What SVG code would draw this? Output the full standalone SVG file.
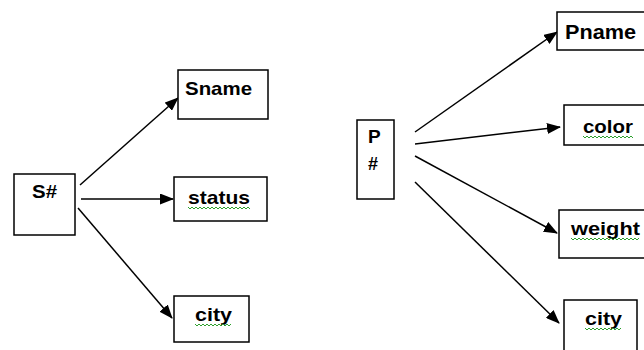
<svg xmlns="http://www.w3.org/2000/svg" width="644" height="350" viewBox="0 0 644 350">
<style>
.box{fill:#fff;stroke:#000;stroke-width:1.5}
.t{font-family:"Liberation Sans",Arial,sans-serif;font-weight:bold;font-size:19px;fill:#000}
.c{stroke:#000;stroke-width:1.5;fill:none;marker-end:url(#ah)}
.sq{stroke:#2ca02c;stroke-width:1;fill:none}
</style>
<defs>
<marker id="ah" viewBox="0 0 14 11" refX="13" refY="5.5" markerWidth="14" markerHeight="11" markerUnits="userSpaceOnUse" orient="auto">
<path d="M0,0 L14,5.5 L0,11 Z" fill="#000"/>
</marker>
</defs>
<rect width="644" height="350" fill="#fff"/>
<g id="connectors">
<line class="c" x1="80" y1="185" x2="178" y2="98"/>
<line class="c" x1="81" y1="199" x2="173" y2="199"/>
<line class="c" x1="78" y1="208" x2="172" y2="318"/>
<line class="c" x1="415" y1="132" x2="557" y2="32"/>
<line class="c" x1="415" y1="144" x2="560" y2="127"/>
<line class="c" x1="415" y1="156" x2="557" y2="233"/>
<line class="c" x1="415" y1="182" x2="559" y2="323"/>
</g>
<g id="node-s">
<rect class="box" x="14" y="174" width="61" height="61"/>
<text class="t" x="32" y="198" textLength="25" lengthAdjust="spacingAndGlyphs">S#</text>
</g>
<g id="node-sname">
<rect class="box" x="178" y="70" width="90" height="49"/>
<text class="t" x="185" y="95" textLength="67" lengthAdjust="spacingAndGlyphs">Sname</text>
</g>
<g id="node-status">
<rect class="box" x="174" y="177" width="93" height="44"/>
<text class="t" x="188" y="204" textLength="62" lengthAdjust="spacingAndGlyphs">status</text>
<polyline class="sq" points="188,207 190,209 192,207 194,209 196,207 198,209 200,207 202,209 204,207 206,209 208,207 210,209 212,207 214,209 216,207 218,209 220,207 222,209 224,207 226,209 228,207 230,209 232,207 234,209 236,207 238,209 240,207 242,209 244,207 246,209 248,207 250,209"/>
</g>
<g id="node-city1">
<rect class="box" x="174" y="296" width="75" height="46"/>
<text class="t" x="195" y="321" textLength="37" lengthAdjust="spacingAndGlyphs">city</text>
<polyline class="sq" points="195,324 197,326 199,324 201,326 203,324 205,326 207,324 209,326 211,324 213,326 215,324 217,326 219,324 221,326 223,324 225,326 227,324 229,326 231,324"/>
</g>
<g id="node-p">
<rect class="box" x="357" y="120" width="37" height="79"/>
<text class="t" x="368" y="143">P</text>
<text class="t" x="368" y="170" style="font-size:18px">#</text>
</g>
<g id="node-pname">
<rect class="box" x="557" y="12" width="100" height="38"/>
<text class="t" x="565" y="39" style="font-size:21px" textLength="71" lengthAdjust="spacingAndGlyphs">Pname</text>
</g>
<g id="node-color">
<rect class="box" x="564" y="105" width="100" height="40"/>
<text class="t" x="583" y="133" textLength="50" lengthAdjust="spacingAndGlyphs">color</text>
<polyline class="sq" points="583,136 585,138 587,136 589,138 591,136 593,138 595,136 597,138 599,136 601,138 603,136 605,138 607,136 609,138 611,136 613,138 615,136 617,138 619,136 621,138 623,136 625,138 627,136 629,138 631,136 633,138"/>
</g>
<g id="node-weight">
<rect class="box" x="559" y="210" width="100" height="48"/>
<text class="t" x="571" y="235" textLength="69" lengthAdjust="spacingAndGlyphs">weight</text>
<polyline class="sq" points="571,238 573,240 575,238 577,240 579,238 581,240 583,238 585,240 587,238 589,240 591,238 593,240 595,238 597,240 599,238 601,240 603,238 605,240 607,238 609,240 611,238 613,240 615,238 617,240 619,238 621,240 623,238 625,240 627,238 629,240 631,238 633,240 635,238 637,240 639,238"/>
</g>
<g id="node-city2">
<rect class="box" x="564" y="300" width="73" height="60"/>
<text class="t" x="585" y="325" textLength="37" lengthAdjust="spacingAndGlyphs">city</text>
<polyline class="sq" points="585,328 587,330 589,328 591,330 593,328 595,330 597,328 599,330 601,328 603,330 605,328 607,330 609,328 611,330 613,328 615,330 617,328 619,330 621,328"/>
</g>
</svg>
